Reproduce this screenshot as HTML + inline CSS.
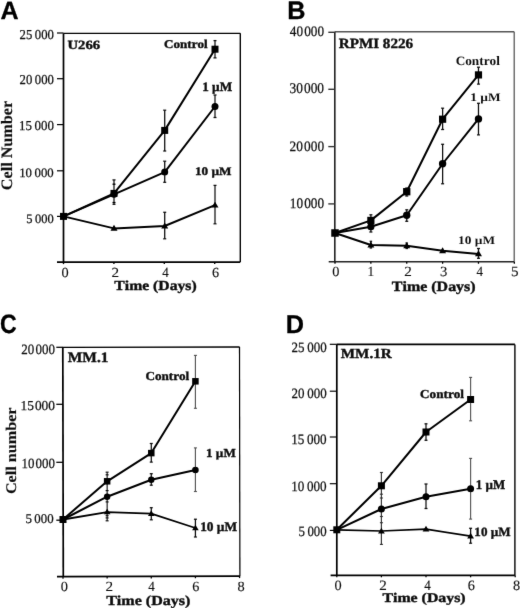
<!DOCTYPE html>
<html><head><meta charset="utf-8"><style>
html,body{margin:0;padding:0;background:#fff;}
svg{display:block;filter:grayscale(1);}
text{font-kerning:none;text-rendering:geometricPrecision;}
</style></head><body>
<svg width="520" height="610" viewBox="0 0 520 610">
<defs><filter id="bl" x="0" y="0" width="1" height="1"><feConvolveMatrix order="3" kernelMatrix="0.00524 0.06192 0.00524 0.06192 0.73137 0.06192 0.00524 0.06192 0.00524" edgeMode="none"/></filter></defs>
<rect width="520" height="610" fill="#fff"/>
<g filter="url(#bl)">
<text transform="translate(0.43 18.55) scale(1.00162 1)" font-family='"Liberation Sans", sans-serif' font-weight="bold" font-size="25.000" fill="#000" stroke="#000" stroke-width="0.300" vector-effect="non-scaling-stroke" stroke-linejoin="round">A</text>
<text transform="translate(287.26 18.55) scale(0.99273 1)" font-family='"Liberation Sans", sans-serif' font-weight="bold" font-size="25.436" fill="#000" stroke="#000" stroke-width="0.300" vector-effect="non-scaling-stroke" stroke-linejoin="round">B</text>
<text transform="translate(0.00 332.55) scale(0.86700 1)" font-family='"Liberation Sans", sans-serif' font-weight="bold" font-size="26.638" fill="#000" stroke="#000" stroke-width="0.300" vector-effect="non-scaling-stroke" stroke-linejoin="round">C</text>
<text transform="translate(285.76 332.85) scale(0.98238 1)" font-family='"Liberation Sans", sans-serif' font-weight="bold" font-size="25.727" fill="#000" stroke="#000" stroke-width="0.300" vector-effect="non-scaling-stroke" stroke-linejoin="round">D</text>
<line x1="63.50" y1="33.30" x2="240.30" y2="33.30" stroke="#000" stroke-width="1.265"/>
<line x1="240.30" y1="33.30" x2="240.30" y2="262.10" stroke="#000" stroke-width="1.38"/>
<line x1="63.50" y1="33.30" x2="63.50" y2="262.10" stroke="#000" stroke-width="1.7249999999999999"/>
<line x1="57.00" y1="262.10" x2="240.30" y2="262.10" stroke="#000" stroke-width="1.7249999999999999"/>
<line x1="57.00" y1="33.00" x2="63.50" y2="33.00" stroke="#000" stroke-width="1.2075"/>
<line x1="57.00" y1="78.70" x2="63.50" y2="78.70" stroke="#000" stroke-width="1.2075"/>
<line x1="57.00" y1="124.60" x2="63.50" y2="124.60" stroke="#000" stroke-width="1.2075"/>
<line x1="57.00" y1="170.80" x2="63.50" y2="170.80" stroke="#000" stroke-width="1.2075"/>
<line x1="57.00" y1="216.40" x2="63.50" y2="216.40" stroke="#000" stroke-width="1.2075"/>
<line x1="63.50" y1="262.10" x2="63.50" y2="264.10" stroke="#000" stroke-width="1.38"/>
<line x1="113.90" y1="262.10" x2="113.90" y2="264.10" stroke="#000" stroke-width="1.38"/>
<line x1="164.30" y1="262.10" x2="164.30" y2="264.10" stroke="#000" stroke-width="1.38"/>
<line x1="214.70" y1="262.10" x2="214.70" y2="264.10" stroke="#000" stroke-width="1.38"/>
<text transform="translate(19.57 38.77) scale(0.93324 1)" font-family='"Liberation Serif", serif' font-weight="normal" font-size="13.608" fill="#111" stroke="#111" stroke-width="0.250" vector-effect="non-scaling-stroke" stroke-linejoin="round">25 000</text>
<text transform="translate(19.57 84.28) scale(0.93324 1)" font-family='"Liberation Serif", serif' font-weight="normal" font-size="13.608" fill="#111" stroke="#111" stroke-width="0.250" vector-effect="non-scaling-stroke" stroke-linejoin="round">20 000</text>
<text transform="translate(18.99 130.07) scale(0.94917 1)" font-family='"Liberation Serif", serif' font-weight="normal" font-size="13.608" fill="#111" stroke="#111" stroke-width="0.250" vector-effect="non-scaling-stroke" stroke-linejoin="round">15 000</text>
<text transform="translate(19.20 176.68) scale(0.99259 1)" font-family='"Liberation Serif", serif' font-weight="normal" font-size="12.856" fill="#111" stroke="#111" stroke-width="0.250" vector-effect="non-scaling-stroke" stroke-linejoin="round">10 000</text>
<text transform="translate(26.20 222.57) scale(0.97043 1)" font-family='"Liberation Serif", serif' font-weight="normal" font-size="12.856" fill="#111" stroke="#111" stroke-width="0.250" vector-effect="non-scaling-stroke" stroke-linejoin="round">5 000</text>
<text transform="translate(61.51 277.24) scale(1.03925 1)" font-family='"Liberation Serif", serif' font-weight="normal" font-size="13.804" fill="#111" stroke="#111" stroke-width="0.120" vector-effect="non-scaling-stroke" stroke-linejoin="round">0</text>
<text transform="translate(111.59 277.24) scale(1.09390 1)" font-family='"Liberation Serif", serif' font-weight="normal" font-size="13.865" fill="#111" stroke="#111" stroke-width="0.120" vector-effect="non-scaling-stroke" stroke-linejoin="round">2</text>
<text transform="translate(162.20 277.24) scale(0.93781 1)" font-family='"Liberation Serif", serif' font-weight="normal" font-size="13.947" fill="#111" stroke="#111" stroke-width="0.120" vector-effect="non-scaling-stroke" stroke-linejoin="round">4</text>
<text transform="translate(212.05 277.24) scale(1.02639 1)" font-family='"Liberation Serif", serif' font-weight="normal" font-size="13.865" fill="#111" stroke="#111" stroke-width="0.120" vector-effect="non-scaling-stroke" stroke-linejoin="round">6</text>
<text transform="translate(114.35 289.80) scale(1.13369 1)" font-family='"Liberation Serif", serif' font-weight="bold" font-size="13.836" fill="#111" stroke="#111" stroke-width="0.400" vector-effect="non-scaling-stroke" stroke-linejoin="round">Time (Days)</text>
<text transform="translate(12.33 190.22) rotate(-90) scale(1.01670 1)" font-family='"Liberation Serif", serif' font-weight="bold" font-size="15.926" fill="#111" stroke="#111" stroke-width="0.150" vector-effect="non-scaling-stroke" stroke-linejoin="round">Cell Number</text>
<text transform="translate(67.43 49.10) scale(1.17379 1)" font-family='"Liberation Serif", serif' font-weight="bold" font-size="12.536" fill="#111" stroke="#111" stroke-width="0.400" vector-effect="non-scaling-stroke" stroke-linejoin="round">U266</text>
<text transform="translate(163.96 48.10) scale(1.09770 1)" font-family='"Liberation Serif", serif' font-weight="bold" font-size="11.962" fill="#111" stroke="#111" stroke-width="0.400" vector-effect="non-scaling-stroke" stroke-linejoin="round">Control</text>
<text transform="translate(202.14 90.80) scale(1.01586 1)" font-family='"Liberation Serif", serif' font-weight="bold" font-size="13.027" fill="#111" stroke="#111" stroke-width="0.400" vector-effect="non-scaling-stroke" stroke-linejoin="round">1 µM</text>
<text transform="translate(194.94 175.20) scale(1.13919 1)" font-family='"Liberation Serif", serif' font-weight="bold" font-size="11.578" fill="#111" stroke="#111" stroke-width="0.400" vector-effect="non-scaling-stroke" stroke-linejoin="round">10 µM</text>
<line x1="114.00" y1="179.90" x2="114.00" y2="204.30" stroke="#111" stroke-width="1.265"/>
<line x1="112.50" y1="179.90" x2="115.50" y2="179.90" stroke="#111" stroke-width="1.265"/>
<line x1="112.50" y1="204.30" x2="115.50" y2="204.30" stroke="#111" stroke-width="1.265"/>
<line x1="112.50" y1="184.20" x2="115.50" y2="184.20" stroke="#000" stroke-width="1.265"/>
<line x1="112.50" y1="202.50" x2="115.50" y2="202.50" stroke="#000" stroke-width="1.265"/>
<line x1="164.70" y1="110.20" x2="164.70" y2="151.00" stroke="#111" stroke-width="1.265"/>
<line x1="163.20" y1="110.20" x2="166.20" y2="110.20" stroke="#111" stroke-width="1.265"/>
<line x1="163.20" y1="151.00" x2="166.20" y2="151.00" stroke="#111" stroke-width="1.265"/>
<line x1="215.00" y1="40.60" x2="215.00" y2="57.90" stroke="#111" stroke-width="1.265"/>
<line x1="213.50" y1="40.60" x2="216.50" y2="40.60" stroke="#111" stroke-width="1.265"/>
<line x1="213.50" y1="57.90" x2="216.50" y2="57.90" stroke="#111" stroke-width="1.265"/>
<line x1="164.70" y1="161.20" x2="164.70" y2="182.30" stroke="#111" stroke-width="1.265"/>
<line x1="163.20" y1="161.20" x2="166.20" y2="161.20" stroke="#111" stroke-width="1.265"/>
<line x1="163.20" y1="182.30" x2="166.20" y2="182.30" stroke="#111" stroke-width="1.265"/>
<line x1="215.00" y1="95.00" x2="215.00" y2="117.50" stroke="#111" stroke-width="1.265"/>
<line x1="213.50" y1="95.00" x2="216.50" y2="95.00" stroke="#111" stroke-width="1.265"/>
<line x1="213.50" y1="117.50" x2="216.50" y2="117.50" stroke="#111" stroke-width="1.265"/>
<line x1="164.70" y1="212.30" x2="164.70" y2="238.80" stroke="#111" stroke-width="1.265"/>
<line x1="163.20" y1="212.30" x2="166.20" y2="212.30" stroke="#111" stroke-width="1.265"/>
<line x1="163.20" y1="238.80" x2="166.20" y2="238.80" stroke="#111" stroke-width="1.265"/>
<line x1="215.00" y1="185.40" x2="215.00" y2="223.80" stroke="#111" stroke-width="1.265"/>
<line x1="213.50" y1="185.40" x2="216.50" y2="185.40" stroke="#111" stroke-width="1.265"/>
<line x1="213.50" y1="223.80" x2="216.50" y2="223.80" stroke="#111" stroke-width="1.265"/>
<polyline points="63.50,216.40 114.00,193.40 164.70,130.40 215.00,49.20" fill="none" stroke="#000" stroke-width="2.0" stroke-linejoin="round"/>
<polyline points="63.50,216.40 114.00,194.30 164.70,172.10 215.00,106.50" fill="none" stroke="#000" stroke-width="2.0" stroke-linejoin="round"/>
<polyline points="63.50,216.40 114.00,228.40 164.70,226.00 215.00,205.20" fill="none" stroke="#000" stroke-width="2.0" stroke-linejoin="round"/>
<rect x="60.00" y="212.90" width="7" height="7" fill="#000"/>
<rect x="110.50" y="189.90" width="7" height="7" fill="#000"/>
<rect x="161.20" y="126.90" width="7" height="7" fill="#000"/>
<rect x="211.50" y="45.70" width="7" height="7" fill="#000"/>
<circle cx="114.00" cy="194.30" r="3.5" fill="#000"/>
<circle cx="164.70" cy="172.10" r="3.5" fill="#000"/>
<circle cx="215.00" cy="106.50" r="3.5" fill="#000"/>
<polygon points="114.00,224.83 117.50,230.78 110.50,230.78" fill="#000"/>
<polygon points="164.70,222.43 168.20,228.38 161.20,228.38" fill="#000"/>
<polygon points="215.00,201.63 218.50,207.58 211.50,207.58" fill="#000"/>
<line x1="334.80" y1="31.80" x2="514.20" y2="31.80" stroke="#555" stroke-width="1.4949999999999999"/>
<line x1="514.20" y1="31.80" x2="514.20" y2="261.80" stroke="#555" stroke-width="1.265"/>
<line x1="334.80" y1="31.80" x2="334.80" y2="261.80" stroke="#222" stroke-width="1.6099999999999999"/>
<line x1="328.70" y1="261.80" x2="514.20" y2="261.80" stroke="#222" stroke-width="1.6099999999999999"/>
<line x1="328.30" y1="32.30" x2="334.80" y2="32.30" stroke="#333" stroke-width="1.38"/>
<line x1="328.30" y1="89.30" x2="334.80" y2="89.30" stroke="#333" stroke-width="1.38"/>
<line x1="328.30" y1="146.60" x2="334.80" y2="146.60" stroke="#333" stroke-width="1.38"/>
<line x1="328.30" y1="203.90" x2="334.80" y2="203.90" stroke="#333" stroke-width="1.38"/>
<line x1="335.00" y1="261.80" x2="335.00" y2="263.80" stroke="#000" stroke-width="1.265"/>
<line x1="370.87" y1="261.80" x2="370.87" y2="263.80" stroke="#000" stroke-width="1.265"/>
<line x1="406.74" y1="261.80" x2="406.74" y2="263.80" stroke="#000" stroke-width="1.265"/>
<line x1="442.61" y1="261.80" x2="442.61" y2="263.80" stroke="#000" stroke-width="1.265"/>
<line x1="478.48" y1="261.80" x2="478.48" y2="263.80" stroke="#000" stroke-width="1.265"/>
<line x1="514.35" y1="261.80" x2="514.35" y2="263.80" stroke="#000" stroke-width="1.265"/>
<text transform="translate(289.87 35.88) scale(0.92220 1)" font-family='"Liberation Serif", serif' font-weight="normal" font-size="14.360" fill="#111" stroke="#111" stroke-width="0.250" vector-effect="non-scaling-stroke" stroke-linejoin="round">40 000</text>
<text transform="translate(289.48 93.28) scale(0.90426 1)" font-family='"Liberation Serif", serif' font-weight="normal" font-size="14.811" fill="#111" stroke="#111" stroke-width="0.250" vector-effect="non-scaling-stroke" stroke-linejoin="round">30 000</text>
<text transform="translate(289.54 150.88) scale(0.93121 1)" font-family='"Liberation Serif", serif' font-weight="normal" font-size="14.360" fill="#111" stroke="#111" stroke-width="0.250" vector-effect="non-scaling-stroke" stroke-linejoin="round">20 000</text>
<text transform="translate(289.86 208.28) scale(0.91280 1)" font-family='"Liberation Serif", serif' font-weight="normal" font-size="14.510" fill="#111" stroke="#111" stroke-width="0.250" vector-effect="non-scaling-stroke" stroke-linejoin="round">10 000</text>
<text transform="translate(332.31 276.34) scale(1.02805 1)" font-family='"Liberation Serif", serif' font-weight="normal" font-size="13.954" fill="#111" stroke="#111" stroke-width="0.120" vector-effect="non-scaling-stroke" stroke-linejoin="round">0</text>
<text transform="translate(367.49 276.34) scale(0.94567 1)" font-family='"Liberation Serif", serif' font-weight="normal" font-size="14.057" fill="#111" stroke="#111" stroke-width="0.120" vector-effect="non-scaling-stroke" stroke-linejoin="round">1</text>
<text transform="translate(404.29 276.34) scale(1.08211 1)" font-family='"Liberation Serif", serif' font-weight="normal" font-size="14.016" fill="#111" stroke="#111" stroke-width="0.120" vector-effect="non-scaling-stroke" stroke-linejoin="round">2</text>
<text transform="translate(440.06 276.34) scale(1.05013 1)" font-family='"Liberation Serif", serif' font-weight="normal" font-size="14.016" fill="#111" stroke="#111" stroke-width="0.120" vector-effect="non-scaling-stroke" stroke-linejoin="round">3</text>
<text transform="translate(476.50 276.34) scale(0.92770 1)" font-family='"Liberation Serif", serif' font-weight="normal" font-size="14.099" fill="#111" stroke="#111" stroke-width="0.120" vector-effect="non-scaling-stroke" stroke-linejoin="round">4</text>
<text transform="translate(510.88 276.34) scale(1.06495 1)" font-family='"Liberation Serif", serif' font-weight="normal" font-size="14.173" fill="#111" stroke="#111" stroke-width="0.120" vector-effect="non-scaling-stroke" stroke-linejoin="round">5</text>
<text transform="translate(391.85 290.60) scale(1.13102 1)" font-family='"Liberation Serif", serif' font-weight="bold" font-size="14.124" fill="#111" stroke="#111" stroke-width="0.400" vector-effect="non-scaling-stroke" stroke-linejoin="round">Time (Days)</text>
<text transform="translate(338.74 47.60) scale(1.07076 1)" font-family='"Liberation Serif", serif' font-weight="bold" font-size="14.135" fill="#111" stroke="#111" stroke-width="0.400" vector-effect="non-scaling-stroke" stroke-linejoin="round">RPMI 8226</text>
<text transform="translate(455.65 64.80) scale(1.03563 1)" font-family='"Liberation Serif", serif' font-weight="bold" font-size="12.827" fill="#111">Control</text>
<text transform="translate(470.23 101.20) scale(1.14650 1)" font-family='"Liberation Serif", serif' font-weight="bold" font-size="11.664" fill="#111">1 µM</text>
<text transform="translate(458.03 243.50) scale(1.15542 1)" font-family='"Liberation Serif", serif' font-weight="bold" font-size="11.578" fill="#111">10 µM</text>
<line x1="370.87" y1="214.80" x2="370.87" y2="226.00" stroke="#111" stroke-width="1.265"/>
<line x1="369.37" y1="214.80" x2="372.37" y2="214.80" stroke="#111" stroke-width="1.265"/>
<line x1="369.37" y1="226.00" x2="372.37" y2="226.00" stroke="#111" stroke-width="1.265"/>
<line x1="370.87" y1="220.00" x2="370.87" y2="232.00" stroke="#111" stroke-width="1.265"/>
<line x1="369.37" y1="220.00" x2="372.37" y2="220.00" stroke="#111" stroke-width="1.265"/>
<line x1="369.37" y1="232.00" x2="372.37" y2="232.00" stroke="#111" stroke-width="1.265"/>
<line x1="406.74" y1="188.00" x2="406.74" y2="196.00" stroke="#111" stroke-width="1.265"/>
<line x1="405.24" y1="188.00" x2="408.24" y2="188.00" stroke="#111" stroke-width="1.265"/>
<line x1="405.24" y1="196.00" x2="408.24" y2="196.00" stroke="#111" stroke-width="1.265"/>
<line x1="406.74" y1="209.80" x2="406.74" y2="221.30" stroke="#111" stroke-width="1.265"/>
<line x1="405.24" y1="209.80" x2="408.24" y2="209.80" stroke="#111" stroke-width="1.265"/>
<line x1="405.24" y1="221.30" x2="408.24" y2="221.30" stroke="#111" stroke-width="1.265"/>
<line x1="442.61" y1="108.20" x2="442.61" y2="129.50" stroke="#111" stroke-width="1.265"/>
<line x1="441.11" y1="108.20" x2="444.11" y2="108.20" stroke="#111" stroke-width="1.265"/>
<line x1="441.11" y1="129.50" x2="444.11" y2="129.50" stroke="#111" stroke-width="1.265"/>
<line x1="442.61" y1="144.30" x2="442.61" y2="183.75" stroke="#111" stroke-width="1.265"/>
<line x1="441.11" y1="144.30" x2="444.11" y2="144.30" stroke="#111" stroke-width="1.265"/>
<line x1="441.11" y1="183.75" x2="444.11" y2="183.75" stroke="#111" stroke-width="1.265"/>
<line x1="478.48" y1="67.20" x2="478.48" y2="84.10" stroke="#111" stroke-width="1.265"/>
<line x1="476.98" y1="67.20" x2="479.98" y2="67.20" stroke="#111" stroke-width="1.265"/>
<line x1="476.98" y1="84.10" x2="479.98" y2="84.10" stroke="#111" stroke-width="1.265"/>
<line x1="478.48" y1="103.30" x2="478.48" y2="134.90" stroke="#111" stroke-width="1.265"/>
<line x1="476.98" y1="103.30" x2="479.98" y2="103.30" stroke="#111" stroke-width="1.265"/>
<line x1="476.98" y1="134.90" x2="479.98" y2="134.90" stroke="#111" stroke-width="1.265"/>
<line x1="478.48" y1="248.50" x2="478.48" y2="258.30" stroke="#111" stroke-width="1.265"/>
<line x1="476.98" y1="248.50" x2="479.98" y2="248.50" stroke="#111" stroke-width="1.265"/>
<line x1="476.98" y1="258.30" x2="479.98" y2="258.30" stroke="#111" stroke-width="1.265"/>
<line x1="370.87" y1="241.30" x2="370.87" y2="248.00" stroke="#111" stroke-width="1.265"/>
<line x1="369.62" y1="241.30" x2="372.12" y2="241.30" stroke="#111" stroke-width="1.265"/>
<line x1="369.62" y1="248.00" x2="372.12" y2="248.00" stroke="#111" stroke-width="1.265"/>
<line x1="406.74" y1="243.00" x2="406.74" y2="248.50" stroke="#111" stroke-width="1.265"/>
<line x1="405.49" y1="243.00" x2="407.99" y2="243.00" stroke="#111" stroke-width="1.265"/>
<line x1="405.49" y1="248.50" x2="407.99" y2="248.50" stroke="#111" stroke-width="1.265"/>
<polyline points="335.00,233.00 370.87,220.40 406.74,191.70 442.61,119.20 478.48,74.90" fill="none" stroke="#000" stroke-width="2.0" stroke-linejoin="round"/>
<polyline points="335.00,233.00 370.87,226.70 406.74,215.20 442.61,163.75 478.48,118.90" fill="none" stroke="#000" stroke-width="2.0" stroke-linejoin="round"/>
<polyline points="335.00,233.00 370.87,245.00 406.74,245.75 442.61,250.75 478.48,253.90" fill="none" stroke="#000" stroke-width="2.0" stroke-linejoin="round"/>
<rect x="331.25" y="229.25" width="7.5" height="7.5" fill="#000"/>
<rect x="367.27" y="216.80" width="7.2" height="7.2" fill="#000"/>
<rect x="403.09" y="188.05" width="7.3" height="7.3" fill="#000"/>
<rect x="439.01" y="115.60" width="7.2" height="7.2" fill="#000"/>
<rect x="474.88" y="71.30" width="7.2" height="7.2" fill="#000"/>
<circle cx="370.87" cy="226.70" r="3.6" fill="#000"/>
<circle cx="406.74" cy="215.30" r="3.7" fill="#000"/>
<circle cx="442.61" cy="163.75" r="3.7" fill="#000"/>
<circle cx="478.48" cy="118.90" r="3.7" fill="#000"/>
<polygon points="370.87,241.43 374.37,247.38 367.37,247.38" fill="#000"/>
<polygon points="406.74,242.18 410.24,248.13 403.24,248.13" fill="#000"/>
<polygon points="442.61,247.18 446.11,253.13 439.11,253.13" fill="#000"/>
<polygon points="478.48,250.33 481.98,256.28 474.98,256.28" fill="#000"/>
<line x1="62.80" y1="347.45" x2="239.60" y2="347.00" stroke="#000" stroke-width="1.3224999999999998"/>
<line x1="239.50" y1="347.00" x2="239.90" y2="576.20" stroke="#000" stroke-width="1.2075"/>
<line x1="62.80" y1="347.30" x2="63.30" y2="576.70" stroke="#000" stroke-width="1.7249999999999999"/>
<line x1="57.00" y1="576.70" x2="240.00" y2="576.10" stroke="#000" stroke-width="1.7249999999999999"/>
<line x1="56.30" y1="347.30" x2="63.00" y2="347.30" stroke="#000" stroke-width="1.265"/>
<line x1="56.30" y1="404.30" x2="63.00" y2="404.30" stroke="#000" stroke-width="1.265"/>
<line x1="56.30" y1="462.30" x2="63.00" y2="462.30" stroke="#000" stroke-width="1.265"/>
<line x1="56.30" y1="520.20" x2="63.00" y2="520.20" stroke="#000" stroke-width="1.265"/>
<line x1="63.00" y1="576.68" x2="63.00" y2="578.68" stroke="#000" stroke-width="1.265"/>
<line x1="107.14" y1="576.54" x2="107.14" y2="578.54" stroke="#000" stroke-width="1.265"/>
<line x1="151.28" y1="576.39" x2="151.28" y2="578.39" stroke="#000" stroke-width="1.265"/>
<line x1="195.42" y1="576.25" x2="195.42" y2="578.25" stroke="#000" stroke-width="1.265"/>
<line x1="239.56" y1="576.10" x2="239.56" y2="578.10" stroke="#000" stroke-width="1.265"/>
<text transform="translate(21.35 353.57) scale(0.91574 1)" font-family='"Liberation Serif", serif' font-weight="normal" font-size="14.210" fill="#111" stroke="#111" stroke-width="0.250" vector-effect="non-scaling-stroke" stroke-linejoin="round">20 000</text>
<text transform="translate(20.45 409.68) scale(0.98228 1)" font-family='"Liberation Serif", serif' font-weight="normal" font-size="13.608" fill="#111" stroke="#111" stroke-width="0.250" vector-effect="non-scaling-stroke" stroke-linejoin="round">15 000</text>
<text transform="translate(21.49 467.88) scale(0.92182 1)" font-family='"Liberation Serif", serif' font-weight="normal" font-size="14.059" fill="#111" stroke="#111" stroke-width="0.250" vector-effect="non-scaling-stroke" stroke-linejoin="round">10 000</text>
<text transform="translate(25.38 523.38) scale(0.96611 1)" font-family='"Liberation Serif", serif' font-weight="normal" font-size="13.307" fill="#111" stroke="#111" stroke-width="0.250" vector-effect="non-scaling-stroke" stroke-linejoin="round">5 000</text>
<text transform="translate(60.81 591.34) scale(1.02805 1)" font-family='"Liberation Serif", serif' font-weight="normal" font-size="13.954" fill="#111" stroke="#111" stroke-width="0.120" vector-effect="non-scaling-stroke" stroke-linejoin="round">0</text>
<text transform="translate(105.49 591.34) scale(1.08211 1)" font-family='"Liberation Serif", serif' font-weight="normal" font-size="14.016" fill="#111" stroke="#111" stroke-width="0.120" vector-effect="non-scaling-stroke" stroke-linejoin="round">2</text>
<text transform="translate(148.20 591.34) scale(0.92770 1)" font-family='"Liberation Serif", serif' font-weight="normal" font-size="14.099" fill="#111" stroke="#111" stroke-width="0.120" vector-effect="non-scaling-stroke" stroke-linejoin="round">4</text>
<text transform="translate(192.35 591.34) scale(1.01533 1)" font-family='"Liberation Serif", serif' font-weight="normal" font-size="14.016" fill="#111" stroke="#111" stroke-width="0.120" vector-effect="non-scaling-stroke" stroke-linejoin="round">6</text>
<text transform="translate(237.61 591.34) scale(1.02805 1)" font-family='"Liberation Serif", serif' font-weight="normal" font-size="13.954" fill="#111" stroke="#111" stroke-width="0.120" vector-effect="non-scaling-stroke" stroke-linejoin="round">8</text>
<text transform="translate(106.15 604.80) scale(1.16155 1)" font-family='"Liberation Serif", serif' font-weight="bold" font-size="13.836" fill="#111" stroke="#111" stroke-width="0.400" vector-effect="non-scaling-stroke" stroke-linejoin="round">Time (Days)</text>
<text transform="translate(15.53 494.11) rotate(-90) scale(1.09461 1)" font-family='"Liberation Serif", serif' font-weight="bold" font-size="14.773" fill="#111" stroke="#111" stroke-width="0.150" vector-effect="non-scaling-stroke" stroke-linejoin="round">Cell number</text>
<text transform="translate(67.74 362.30) scale(1.06274 1)" font-family='"Liberation Serif", serif' font-weight="bold" font-size="14.542" fill="#111" stroke="#111" stroke-width="0.400" vector-effect="non-scaling-stroke" stroke-linejoin="round">MM.1</text>
<text transform="translate(145.46 380.20) scale(1.08463 1)" font-family='"Liberation Serif", serif' font-weight="bold" font-size="12.106" fill="#111" stroke="#111" stroke-width="0.400" vector-effect="non-scaling-stroke" stroke-linejoin="round">Control</text>
<text transform="translate(206.05 456.90) scale(1.06725 1)" font-family='"Liberation Serif", serif' font-weight="bold" font-size="12.270" fill="#111" stroke="#111" stroke-width="0.400" vector-effect="non-scaling-stroke" stroke-linejoin="round">1 µM</text>
<text transform="translate(200.13 530.80) scale(1.02261 1)" font-family='"Liberation Serif", serif' font-weight="bold" font-size="13.082" fill="#111" stroke="#111" stroke-width="0.400" vector-effect="non-scaling-stroke" stroke-linejoin="round">10 µM</text>
<line x1="107.14" y1="472.20" x2="107.14" y2="520.80" stroke="#111" stroke-width="1.15"/>
<line x1="105.64" y1="472.20" x2="108.64" y2="472.20" stroke="#111" stroke-width="1.15"/>
<line x1="105.64" y1="520.80" x2="108.64" y2="520.80" stroke="#111" stroke-width="1.15"/>
<line x1="105.64" y1="474.80" x2="108.64" y2="474.80" stroke="#111" stroke-width="1.15"/>
<line x1="105.64" y1="490.60" x2="108.64" y2="490.60" stroke="#111" stroke-width="1.15"/>
<line x1="105.64" y1="501.90" x2="108.64" y2="501.90" stroke="#111" stroke-width="1.15"/>
<line x1="105.64" y1="515.70" x2="108.64" y2="515.70" stroke="#111" stroke-width="1.15"/>
<line x1="105.64" y1="517.90" x2="108.64" y2="517.90" stroke="#111" stroke-width="1.15"/>
<line x1="151.28" y1="443.50" x2="151.28" y2="462.10" stroke="#111" stroke-width="1.265"/>
<line x1="149.78" y1="443.50" x2="152.78" y2="443.50" stroke="#111" stroke-width="1.265"/>
<line x1="149.78" y1="462.10" x2="152.78" y2="462.10" stroke="#111" stroke-width="1.265"/>
<line x1="151.28" y1="473.70" x2="151.28" y2="485.20" stroke="#111" stroke-width="1.265"/>
<line x1="149.78" y1="473.70" x2="152.78" y2="473.70" stroke="#111" stroke-width="1.265"/>
<line x1="149.78" y1="485.20" x2="152.78" y2="485.20" stroke="#111" stroke-width="1.265"/>
<line x1="151.28" y1="507.70" x2="151.28" y2="519.80" stroke="#111" stroke-width="1.265"/>
<line x1="149.78" y1="507.70" x2="152.78" y2="507.70" stroke="#111" stroke-width="1.265"/>
<line x1="149.78" y1="519.80" x2="152.78" y2="519.80" stroke="#111" stroke-width="1.265"/>
<line x1="195.42" y1="355.40" x2="195.42" y2="408.30" stroke="#555" stroke-width="1.15"/>
<line x1="193.92" y1="355.40" x2="196.92" y2="355.40" stroke="#555" stroke-width="1.15"/>
<line x1="193.92" y1="408.30" x2="196.92" y2="408.30" stroke="#555" stroke-width="1.15"/>
<line x1="195.42" y1="447.90" x2="195.42" y2="491.50" stroke="#555" stroke-width="1.15"/>
<line x1="193.92" y1="447.90" x2="196.92" y2="447.90" stroke="#555" stroke-width="1.15"/>
<line x1="193.92" y1="491.50" x2="196.92" y2="491.50" stroke="#555" stroke-width="1.15"/>
<line x1="195.42" y1="519.25" x2="195.42" y2="537.00" stroke="#111" stroke-width="1.265"/>
<line x1="193.92" y1="519.25" x2="196.92" y2="519.25" stroke="#111" stroke-width="1.265"/>
<line x1="193.92" y1="537.00" x2="196.92" y2="537.00" stroke="#111" stroke-width="1.265"/>
<polyline points="63.00,519.50 107.14,481.30 151.28,453.10 195.42,381.30" fill="none" stroke="#000" stroke-width="2.0" stroke-linejoin="round"/>
<polyline points="63.00,519.50 107.14,496.70 151.28,479.80 195.42,470.00" fill="none" stroke="#000" stroke-width="2.0" stroke-linejoin="round"/>
<polyline points="63.00,519.50 107.14,512.10 151.28,513.70 195.42,528.00" fill="none" stroke="#000" stroke-width="1.8" stroke-linejoin="round"/>
<rect x="59.50" y="516.00" width="7" height="7" fill="#000"/>
<rect x="103.89" y="478.05" width="6.5" height="6.5" fill="#000"/>
<rect x="148.03" y="449.85" width="6.5" height="6.5" fill="#000"/>
<rect x="192.17" y="378.05" width="6.5" height="6.5" fill="#000"/>
<circle cx="107.14" cy="496.70" r="3.2" fill="#000"/>
<circle cx="151.28" cy="479.80" r="3.2" fill="#000"/>
<circle cx="195.42" cy="470.00" r="3.3" fill="#000"/>
<polygon points="107.14,508.73 110.44,514.34 103.84,514.34" fill="#000"/>
<polygon points="151.28,510.33 154.58,515.94 147.98,515.94" fill="#000"/>
<polygon points="195.42,524.63 198.72,530.24 192.12,530.24" fill="#000"/>
<line x1="336.80" y1="344.40" x2="514.90" y2="344.40" stroke="#000" stroke-width="1.6099999999999999"/>
<line x1="514.90" y1="344.40" x2="514.90" y2="575.30" stroke="#000" stroke-width="1.38"/>
<line x1="336.80" y1="344.40" x2="336.80" y2="575.30" stroke="#000" stroke-width="1.7249999999999999"/>
<line x1="330.60" y1="575.30" x2="514.90" y2="575.30" stroke="#000" stroke-width="1.7249999999999999"/>
<line x1="329.80" y1="344.30" x2="336.80" y2="344.30" stroke="#000" stroke-width="1.15"/>
<line x1="329.80" y1="391.20" x2="336.80" y2="391.20" stroke="#000" stroke-width="1.15"/>
<line x1="329.80" y1="437.00" x2="336.80" y2="437.00" stroke="#000" stroke-width="1.15"/>
<line x1="329.80" y1="483.70" x2="336.80" y2="483.70" stroke="#000" stroke-width="1.15"/>
<line x1="329.80" y1="530.40" x2="336.80" y2="530.40" stroke="#000" stroke-width="1.15"/>
<line x1="336.80" y1="575.30" x2="336.80" y2="577.30" stroke="#000" stroke-width="1.265"/>
<line x1="381.40" y1="575.30" x2="381.40" y2="577.30" stroke="#000" stroke-width="1.265"/>
<line x1="426.00" y1="575.30" x2="426.00" y2="577.30" stroke="#000" stroke-width="1.265"/>
<line x1="470.60" y1="575.30" x2="470.60" y2="577.30" stroke="#000" stroke-width="1.265"/>
<line x1="515.20" y1="575.30" x2="515.20" y2="577.30" stroke="#000" stroke-width="1.265"/>
<text transform="translate(291.55 352.18) scale(0.91524 1)" font-family='"Liberation Serif", serif' font-weight="normal" font-size="14.210" fill="#111" stroke="#111" stroke-width="0.250" vector-effect="non-scaling-stroke" stroke-linejoin="round">25 000</text>
<text transform="translate(291.55 398.18) scale(0.91524 1)" font-family='"Liberation Serif", serif' font-weight="normal" font-size="14.210" fill="#111" stroke="#111" stroke-width="0.250" vector-effect="non-scaling-stroke" stroke-linejoin="round">20 000</text>
<text transform="translate(291.17 443.98) scale(0.91571 1)" font-family='"Liberation Serif", serif' font-weight="normal" font-size="14.360" fill="#111" stroke="#111" stroke-width="0.250" vector-effect="non-scaling-stroke" stroke-linejoin="round">15 000</text>
<text transform="translate(291.17 490.68) scale(0.92540 1)" font-family='"Liberation Serif", serif' font-weight="normal" font-size="14.210" fill="#111" stroke="#111" stroke-width="0.250" vector-effect="non-scaling-stroke" stroke-linejoin="round">10 000</text>
<text transform="translate(298.38 535.88) scale(0.90477 1)" font-family='"Liberation Serif", serif' font-weight="normal" font-size="14.210" fill="#111" stroke="#111" stroke-width="0.250" vector-effect="non-scaling-stroke" stroke-linejoin="round">5 000</text>
<text transform="translate(334.51 590.34) scale(1.00636 1)" font-family='"Liberation Serif", serif' font-weight="normal" font-size="14.255" fill="#111" stroke="#111" stroke-width="0.120" vector-effect="non-scaling-stroke" stroke-linejoin="round">0</text>
<text transform="translate(379.29 590.34) scale(1.05928 1)" font-family='"Liberation Serif", serif' font-weight="normal" font-size="14.318" fill="#111" stroke="#111" stroke-width="0.120" vector-effect="non-scaling-stroke" stroke-linejoin="round">2</text>
<text transform="translate(424.20 590.34) scale(0.90813 1)" font-family='"Liberation Serif", serif' font-weight="normal" font-size="14.403" fill="#111" stroke="#111" stroke-width="0.120" vector-effect="non-scaling-stroke" stroke-linejoin="round">4</text>
<text transform="translate(467.85 590.34) scale(0.99391 1)" font-family='"Liberation Serif", serif' font-weight="normal" font-size="14.318" fill="#111" stroke="#111" stroke-width="0.120" vector-effect="non-scaling-stroke" stroke-linejoin="round">6</text>
<text transform="translate(512.91 590.34) scale(1.00636 1)" font-family='"Liberation Serif", serif' font-weight="normal" font-size="14.255" fill="#111" stroke="#111" stroke-width="0.120" vector-effect="non-scaling-stroke" stroke-linejoin="round">8</text>
<text transform="translate(382.45 601.70) scale(1.19606 1)" font-family='"Liberation Serif", serif' font-weight="bold" font-size="13.259" fill="#111" stroke="#111" stroke-width="0.400" vector-effect="non-scaling-stroke" stroke-linejoin="round">Time (Days)</text>
<text transform="translate(340.74 358.00) scale(1.08976 1)" font-family='"Liberation Serif", serif' font-weight="bold" font-size="13.936" fill="#111" stroke="#111" stroke-width="0.400" vector-effect="non-scaling-stroke" stroke-linejoin="round">MM.1R</text>
<text transform="translate(420.06 398.20) scale(1.08969 1)" font-family='"Liberation Serif", serif' font-weight="bold" font-size="12.106" fill="#111" stroke="#111" stroke-width="0.400" vector-effect="non-scaling-stroke" stroke-linejoin="round">Control</text>
<text transform="translate(475.87 489.30) scale(0.96847 1)" font-family='"Liberation Serif", serif' font-weight="bold" font-size="13.330" fill="#111" stroke="#111" stroke-width="0.400" vector-effect="non-scaling-stroke" stroke-linejoin="round">1 µM</text>
<text transform="translate(474.35 535.80) scale(1.03533 1)" font-family='"Liberation Serif", serif' font-weight="bold" font-size="12.631" fill="#111" stroke="#111" stroke-width="0.400" vector-effect="non-scaling-stroke" stroke-linejoin="round">10 µM</text>
<line x1="381.40" y1="472.50" x2="381.40" y2="544.40" stroke="#333" stroke-width="1.15"/>
<line x1="379.90" y1="472.50" x2="382.90" y2="472.50" stroke="#333" stroke-width="1.15"/>
<line x1="379.90" y1="544.40" x2="382.90" y2="544.40" stroke="#333" stroke-width="1.15"/>
<line x1="379.90" y1="494.20" x2="382.90" y2="494.20" stroke="#333" stroke-width="1.15"/>
<line x1="379.90" y1="498.00" x2="382.90" y2="498.00" stroke="#333" stroke-width="1.15"/>
<line x1="379.90" y1="516.50" x2="382.90" y2="516.50" stroke="#333" stroke-width="1.15"/>
<line x1="379.90" y1="522.70" x2="382.90" y2="522.70" stroke="#333" stroke-width="1.15"/>
<line x1="426.00" y1="423.80" x2="426.00" y2="440.30" stroke="#111" stroke-width="1.265"/>
<line x1="424.50" y1="423.80" x2="427.50" y2="423.80" stroke="#111" stroke-width="1.265"/>
<line x1="424.50" y1="440.30" x2="427.50" y2="440.30" stroke="#111" stroke-width="1.265"/>
<line x1="426.00" y1="484.00" x2="426.00" y2="508.50" stroke="#111" stroke-width="1.265"/>
<line x1="424.50" y1="484.00" x2="427.50" y2="484.00" stroke="#111" stroke-width="1.265"/>
<line x1="424.50" y1="508.50" x2="427.50" y2="508.50" stroke="#111" stroke-width="1.265"/>
<line x1="470.60" y1="377.40" x2="470.60" y2="420.80" stroke="#555" stroke-width="1.15"/>
<line x1="469.10" y1="377.40" x2="472.10" y2="377.40" stroke="#555" stroke-width="1.15"/>
<line x1="469.10" y1="420.80" x2="472.10" y2="420.80" stroke="#555" stroke-width="1.15"/>
<line x1="470.60" y1="458.40" x2="470.60" y2="519.10" stroke="#555" stroke-width="1.15"/>
<line x1="469.10" y1="458.40" x2="472.10" y2="458.40" stroke="#555" stroke-width="1.15"/>
<line x1="469.10" y1="519.10" x2="472.10" y2="519.10" stroke="#555" stroke-width="1.15"/>
<line x1="470.60" y1="528.30" x2="470.60" y2="543.20" stroke="#111" stroke-width="1.265"/>
<line x1="469.10" y1="528.30" x2="472.10" y2="528.30" stroke="#111" stroke-width="1.265"/>
<line x1="469.10" y1="543.20" x2="472.10" y2="543.20" stroke="#111" stroke-width="1.265"/>
<polyline points="336.80,529.80 381.40,485.80 426.00,432.00 470.60,399.50" fill="none" stroke="#000" stroke-width="2.0" stroke-linejoin="round"/>
<polyline points="336.80,529.80 381.40,509.00 426.00,496.80 470.60,488.70" fill="none" stroke="#000" stroke-width="2.0" stroke-linejoin="round"/>
<polyline points="336.80,529.80 381.40,531.00 426.00,529.20 470.60,536.20" fill="none" stroke="#000" stroke-width="1.7" stroke-linejoin="round"/>
<rect x="333.30" y="526.30" width="7" height="7" fill="#000"/>
<rect x="377.90" y="482.30" width="7" height="7" fill="#000"/>
<rect x="422.50" y="428.50" width="7" height="7" fill="#000"/>
<rect x="467.10" y="396.00" width="7" height="7" fill="#000"/>
<circle cx="381.40" cy="509.00" r="3.5" fill="#000"/>
<circle cx="426.00" cy="496.80" r="3.5" fill="#000"/>
<circle cx="470.60" cy="488.70" r="3.5" fill="#000"/>
<polygon points="381.40,527.83 384.80,533.61 378.00,533.61" fill="#000"/>
<polygon points="426.00,525.73 429.40,531.51 422.60,531.51" fill="#000"/>
<polygon points="470.60,532.73 474.00,538.51 467.20,538.51" fill="#000"/>
</g>
</svg>
</body></html>
